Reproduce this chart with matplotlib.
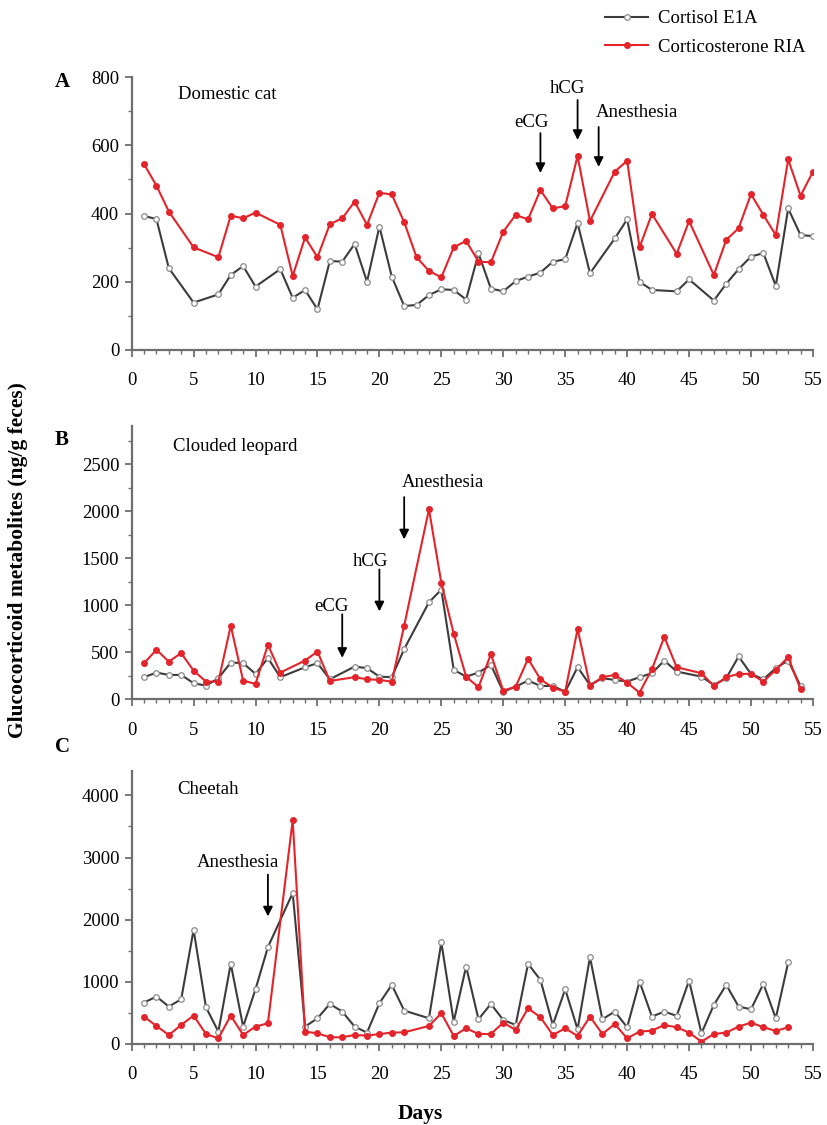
"""Fecal glucocorticoid metabolites in three felid species (three stacked panels)."""

import matplotlib

matplotlib.use("Agg")
import matplotlib.pyplot as plt
from matplotlib.ticker import MultipleLocator

plt.rcParams["font.family"] = ["Liberation Serif", "DejaVu Serif"]

# Panel A: domestic cat
cat_days = [1, 2, 3, 5, 7, 8, 9, 10, 12, 13, 14, 15, 16, 17, 18, 19, 20, 21, 22,
            23, 24, 25, 26, 27, 28, 29, 30, 31, 32, 33, 34, 35, 36, 37, 39, 40,
            41, 42, 44, 45, 47, 48, 49, 50, 51, 52, 53, 54, 55]
cat_cortisol = [393, 384, 240, 139, 163, 220, 246, 186, 237, 153, 176, 119, 261,
                259, 311, 200, 362, 215, 129, 132, 161, 178, 176, 148, 283, 180,
                172, 202, 215, 227, 259, 266, 372, 225, 327, 383, 200, 176, 172,
                207, 145, 194, 237, 274, 284, 188, 415, 337, 334]
cat_corticosterone = [545, 482, 406, 301, 272, 394, 386, 403, 367, 217, 330, 272,
                      369, 386, 435, 367, 461, 456, 375, 272, 232, 213, 301, 320,
                      259, 257, 347, 396, 383, 469, 415, 422, 569, 378, 523, 555,
                      301, 399, 282, 378, 220, 323, 357, 457, 396, 337, 559, 452,
                      523]

# Panel B: clouded leopard
leopard_days = [1, 2, 3, 4, 5, 6, 7, 8, 9, 10, 11, 12, 14, 15, 16, 18, 19, 20,
                21, 22, 24, 25, 26, 27, 28, 29, 30, 31, 32, 33, 34, 35, 36, 37,
                38, 39, 40, 41, 42, 43, 44, 46, 47, 48, 49, 50, 51, 52, 53, 54]
leopard_cortisol = [235, 284, 259, 259, 171, 145, 224, 391, 384, 270, 438, 235,
                    341, 384, 213, 348, 331, 241, 235, 534, 1031, 1166, 313, 241,
                    284, 366, 81, 134, 199, 142, 142, 81, 341, 152, 224, 206, 188,
                    235, 277, 412, 295, 241, 152, 224, 455, 270, 213, 331, 412,
                    142]
leopard_corticosterone = [384, 526, 401, 491, 305, 188, 188, 782, 199, 163, 580,
                          284, 412, 508, 195, 235, 213, 206, 188, 782, 2020, 1238,
                          697, 241, 128, 480, 92, 134, 430, 213, 124, 81, 747, 145,
                          235, 259, 177, 70, 320, 662, 341, 277, 142, 235, 270,
                          270, 188, 313, 448, 107]

# Panel C: cheetah
cheetah_days = [1, 2, 3, 4, 5, 6, 7, 8, 9, 10, 11, 13, 14, 15, 16, 17, 18, 19,
                20, 21, 22, 24, 25, 26, 27, 28, 29, 30, 31, 32, 33, 34, 35, 36,
                37, 38, 39, 40, 41, 42, 43, 44, 45, 46, 47, 48, 49, 50, 51, 52,
                53]
cheetah_cortisol = [667, 763, 602, 720, 1839, 591, 199, 1290, 280, 882, 1559,
                    2430, 280, 414, 645, 522, 280, 183, 656, 952, 538, 414, 1634,
                    360, 1247, 398, 645, 387, 306, 1290, 1032, 306, 882, 237, 1398,
                    398, 522, 269, 1005, 441, 522, 452, 1021, 172, 629, 952, 602,
                    559, 968, 414, 1312]
cheetah_corticosterone = [440, 290, 145, 306, 457, 161, 91, 457, 145, 280, 333,
                          3602, 199, 172, 108, 108, 145, 134, 161, 183, 188, 290,
                          495, 129, 253, 161, 161, 344, 226, 575, 430, 145, 253,
                          129, 441, 161, 322, 91, 199, 215, 306, 269, 183, 38, 161,
                          183, 280, 344, 269, 210, 269]

species = ["Domestic cat", "Clouded leopard", "Cheetah"]
panel_letters = ["A", "B", "C"]

GRAY = "#3c3c3c"
RED = "#e3242b"
SPINE = "#6e6e6e"
FS = 13.5


def style_axis(ax, ymax, major, minor):
    ax.set_xlim(0, 55)
    ax.set_ylim(0, ymax)
    ax.xaxis.set_major_locator(MultipleLocator(5))
    ax.xaxis.set_minor_locator(MultipleLocator(1))
    ax.yaxis.set_major_locator(MultipleLocator(major))
    ax.yaxis.set_minor_locator(MultipleLocator(minor))
    for side in ("top", "right"):
        ax.spines[side].set_visible(False)
    for side in ("left", "bottom"):
        ax.spines[side].set_color(SPINE)
        ax.spines[side].set_linewidth(1.6)
    ax.tick_params(which="major", length=5, width=1.3, color=SPINE,
                   labelsize=FS, pad=4)
    ax.tick_params(which="minor", length=3, width=1.0, color=SPINE)
    # x labels sit well below the axis in the original
    ax.tick_params(axis="x", which="major", pad=11)


def draw_series(ax, days, cortisol, corticosterone):
    ax.plot(days, cortisol, color=GRAY, lw=1.5, marker="o", ms=4,
            mfc="white", mec="#8a8a8a", mew=0.9, label="Cortisol E1A")
    ax.plot(days, corticosterone, color=RED, lw=1.5, marker="o", ms=4,
            mfc=RED, mec=RED, label="Corticosterone RIA")


def arrow(ax, x, y_start, y_end):
    ax.annotate("", xy=(x, y_end), xytext=(x, y_start),
                arrowprops=dict(arrowstyle="-|>", color="black", lw=1.3,
                                mutation_scale=14, shrinkA=0, shrinkB=0))


fig = plt.figure(figsize=(8.27, 11.25), dpi=100)
left, width, height = 0.1592, 0.8238, 0.2425
ax_a = fig.add_axes([left, 0.6889, width, height])
ax_b = fig.add_axes([left, 0.3784, width, height])
ax_c = fig.add_axes([left, 0.0720, width, height])

draw_series(ax_a, cat_days, cat_cortisol, cat_corticosterone)
draw_series(ax_b, leopard_days, leopard_cortisol, leopard_corticosterone)
draw_series(ax_c, cheetah_days, cheetah_cortisol, cheetah_corticosterone)

style_axis(ax_a, 800, 200, 100)
style_axis(ax_b, 2900, 500, 250)
style_axis(ax_c, 4390, 1000, 500)

# species names
ax_a.text(3.75, 748, species[0], fontsize=FS, va="center")
ax_b.text(3.3, 2682, species[1], fontsize=FS, va="center")
ax_c.text(3.7, 4097, species[2], fontsize=FS, va="center")

# treatment arrows
arrow(ax_a, 33, 636, 519)
ax_a.text(32.3, 666, "eCG", fontsize=FS, ha="center", va="center")
arrow(ax_a, 36, 733, 616)
ax_a.text(35.2, 768, "hCG", fontsize=FS, ha="center", va="center")
arrow(ax_a, 37.7, 654, 537)
ax_a.text(37.5, 695, "Anesthesia", fontsize=FS, ha="left", va="center")

arrow(ax_b, 17, 904, 441)
ax_b.text(16.1, 988, "eCG", fontsize=FS, ha="center", va="center")
arrow(ax_b, 20, 1380, 935)
ax_b.text(19.3, 1469, "hCG", fontsize=FS, ha="center", va="center")
arrow(ax_b, 22, 2149, 1700)
ax_b.text(21.8, 2305, "Anesthesia", fontsize=FS, ha="left", va="center")

arrow(ax_c, 11, 2726, 2053)
ax_c.text(8.6, 2915, "Anesthesia", fontsize=FS, ha="center", va="center")

for letter, ypos in zip(panel_letters, [0.927, 0.609, 0.336]):
    fig.text(0.075, ypos, letter, fontsize=15, fontweight="bold",
             ha="center", va="center")

fig.text(0.022, 0.502, "Glucocorticoid metabolites (ng/g feces)", rotation=90,
         fontsize=15.5, fontweight="bold", ha="center", va="center")
fig.text(0.508, 0.0098, "Days", fontsize=15.5, fontweight="bold",
         ha="center", va="center")

handles, labels = ax_a.get_legend_handles_labels()
fig.legend(handles, labels, loc="upper left", bbox_to_anchor=(0.718, 1.001),
           frameon=False, fontsize=13.5, handlelength=2.3, handletextpad=0.55,
           labelspacing=0.6, borderaxespad=0.2)

fig.savefig("out.png", dpi=100)
